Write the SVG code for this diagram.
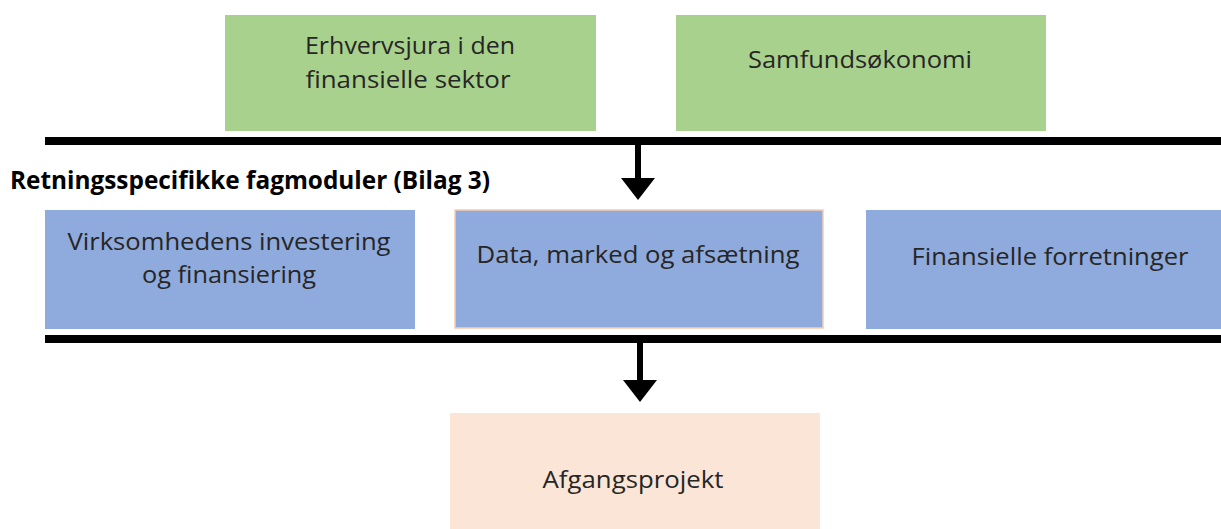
<svg xmlns="http://www.w3.org/2000/svg" width="1221" height="529" viewBox="0 0 1221 529">
<style>
.t{font-family:"Open Sans","Liberation Sans",sans-serif;font-size:24px;fill:#262626;text-anchor:middle}
.g{fill:#A9D18E}
.b{fill:#8FAADC}
.p{fill:#FBE5D6}
.bar{stroke:#000;stroke-width:8;fill:none}
.shaft{stroke:#000;stroke-width:6;fill:none}
.h{font-family:"Open Sans","Liberation Sans",sans-serif;font-size:25px;font-weight:bold;fill:#000}
</style>
<defs>
<marker id="ah" markerUnits="userSpaceOnUse" markerWidth="22" markerHeight="34" refX="0" refY="17" viewBox="0 0 22 34" orient="auto">
<path d="M0 0L22 17L0 34Z" fill="#000"/>
</marker>
</defs>
<rect width="1221" height="529" fill="#fff"/>
<g id="n-erhvervsjura">
<rect class="g" x="225" y="15" width="371" height="116"/>
<text class="t" x="410" y="54" textLength="210" lengthAdjust="spacingAndGlyphs">Erhvervsjura i den</text>
<text class="t" x="408" y="88" textLength="205" lengthAdjust="spacingAndGlyphs">finansielle sektor</text>
</g>
<g id="n-samfund">
<rect class="g" x="676" y="15" width="370" height="116"/>
<text class="t" x="860" y="68" textLength="224" lengthAdjust="spacingAndGlyphs">Samfundsøkonomi</text>
</g>
<text id="heading" class="h" x="10" y="189" textLength="480" lengthAdjust="spacingAndGlyphs">Retningsspecifikke fagmoduler (Bilag 3)</text>
<g id="n-virksomhed">
<rect class="b" x="45" y="210" width="370" height="119"/>
<text class="t" x="229" y="250" textLength="323" lengthAdjust="spacingAndGlyphs">Virksomhedens investering</text>
<text class="t" x="229" y="283" textLength="174" lengthAdjust="spacingAndGlyphs">og finansiering</text>
</g>
<g id="n-data">
<rect class="b" x="455" y="210" width="368" height="118" stroke="#F8CBAD" stroke-width="1.5"/>
<text class="t" x="638" y="263" textLength="323" lengthAdjust="spacingAndGlyphs">Data, marked og afsætning</text>
</g>
<g id="n-finans">
<rect class="b" x="866" y="210" width="355" height="119"/>
<text class="t" x="1050" y="265" textLength="277" lengthAdjust="spacingAndGlyphs">Finansielle forretninger</text>
</g>
<g id="n-afgang">
<rect class="p" x="450" y="413" width="370" height="116"/>
<text class="t" x="633" y="488" textLength="181" lengthAdjust="spacingAndGlyphs">Afgangsprojekt</text>
</g>
<g id="connectors">
<line class="bar" x1="45" y1="141" x2="1221" y2="141"/>
<line class="shaft" x1="638" y1="145" x2="638" y2="178" marker-end="url(#ah)"/>
<line class="bar" x1="45" y1="339" x2="1221" y2="339"/>
<line class="shaft" x1="640" y1="343" x2="640" y2="380" marker-end="url(#ah)"/>
</g>
</svg>
